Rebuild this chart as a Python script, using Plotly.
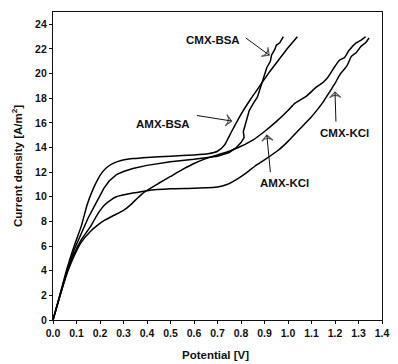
import plotly.graph_objects as go

# ---- data (Potential [V], Current density [A/m2]) ----
amx_bsa_v = [0, 0.03, 0.06, 0.09, 0.12, 0.146, 0.17, 0.19, 0.21, 0.23, 0.26, 0.29, 0.34, 0.4, 0.5, 0.6, 0.66, 0.7,
             0.73, 0.76, 0.8, 0.84, 0.88, 0.92, 0.96, 1.0, 1.04]
amx_bsa_i = [0, 2.1, 4.2, 6.0, 7.6, 9.4, 10.6, 11.4, 12.0, 12.4, 12.75, 12.95, 13.1, 13.2, 13.3, 13.4, 13.5, 13.7,
             14.2, 15.3, 16.7, 17.9, 19.0, 20.1, 21.1, 22.1, 23.0]

cmx_bsa_v = [0, 0.03, 0.06, 0.09, 0.12, 0.15, 0.175, 0.2, 0.217, 0.24, 0.27, 0.3, 0.34, 0.4, 0.5, 0.6, 0.7, 0.75,
             0.78, 0.8, 0.813, 0.81, 0.822, 0.835, 0.85, 0.87, 0.89, 0.91, 0.925, 0.93, 0.945, 0.95, 0.965, 0.98]
cmx_bsa_i = [0, 2.0, 4.0, 5.7, 7.0, 8.3, 9.2, 10.1, 10.7, 11.3, 11.8, 12.05, 12.3, 12.55, 12.85, 13.05, 13.3, 13.6,
             14.0, 14.4, 14.8, 15.3, 16.2, 17.0, 17.5, 18.1, 19.3, 20.5, 21.0, 21.5, 22.0, 22.3, 22.5, 23.0]

amx_kcl_v = [0, 0.03, 0.06, 0.09, 0.12, 0.16, 0.19, 0.22, 0.26, 0.3, 0.33, 0.36, 0.39, 0.45, 0.5, 0.55, 0.6, 0.65,
             0.7, 0.75, 0.8, 0.85, 0.9, 0.95, 1.0, 1.03, 1.08, 1.12, 1.15, 1.17, 1.2, 1.22, 1.24, 1.26,
             1.29, 1.31, 1.33]
amx_kcl_i = [0, 2.0, 3.8, 5.2, 6.3, 7.2, 7.7, 8.1, 8.5, 8.9, 9.35, 9.9, 10.4, 11.1, 11.65, 12.2, 12.7, 13.1,
             13.4, 13.7, 14.1, 14.6, 15.3, 16.1, 17.0, 17.6, 18.2, 18.9, 19.3, 19.7, 20.6, 21.1, 21.3, 21.9,
             22.5, 22.7, 23.0]

cmx_kcl_v = [0, 0.03, 0.06, 0.09, 0.12, 0.16, 0.19, 0.217, 0.25, 0.27, 0.34, 0.4, 0.5, 0.6, 0.7, 0.74, 0.78,
             0.82, 0.86, 0.9, 0.96, 1.0, 1.05, 1.1, 1.13, 1.15, 1.18, 1.2, 1.22, 1.25, 1.27, 1.29, 1.31,
             1.33, 1.345]
cmx_kcl_i = [0, 2.0, 3.9, 5.4, 6.5, 7.6, 8.6, 9.3, 9.8, 10.0, 10.3, 10.5, 10.65, 10.7, 10.8, 11.0, 11.4,
             11.9, 12.5, 13.0, 13.8, 14.5, 15.5, 16.5, 17.2, 17.7, 18.6, 19.2, 19.9, 20.6, 21.4, 21.7, 22.2,
             22.5, 22.9]

x_ticks = [0.0, 0.1, 0.2, 0.3, 0.4, 0.5, 0.6, 0.7, 0.8, 0.9, 1.0, 1.1, 1.2, 1.3, 1.4]
y_ticks = [0, 2, 4, 6, 8, 10, 12, 14, 16, 18, 20, 22, 24]

# labels: (text, label x, label y, arrow tail x, tail y, tip x, tip y)
labels = [
    ("CMX-BSA", 0.68, 22.7, 0.82, 22.9, 0.92, 21.5),
    ("AMX-BSA", 0.47, 15.9, 0.6125, 16.6, 0.76, 16.15),
    ("AMX-KCl", 0.985, 11.1, 0.925, 12.0, 0.91, 15.0),
    ("CMX-KCl", 1.24, 15.2, 1.204, 16.1, 1.2, 18.5),
]

FONT = "Liberation Sans, Arial, sans-serif"

series = [(amx_bsa_v, amx_bsa_i, "spline"), (cmx_bsa_v, cmx_bsa_i, "linear"),
          (amx_kcl_v, amx_kcl_i, "spline"), (cmx_kcl_v, cmx_kcl_i, "spline")]

fig = go.Figure()
for v, i, shp in series:
    line = dict(color="black", width=1.5, shape=shp)
    if shp == "spline":
        line["smoothing"] = 0.5
    fig.add_trace(go.Scatter(x=v, y=i, mode="lines", line=line, showlegend=False, hoverinfo="skip"))

titlefont = dict(family=FONT, size=11.5, color="#111", weight="bold")
tickfont = dict(family=FONT, size=10.5, color="#111", weight="bold")

ann = []
for t, lx, ly, tx, ty, hx, hy in labels:
    ann.append(dict(x=lx, y=ly, xref="x", yref="y", text=t, showarrow=False,
                    font=dict(family=FONT, size=11.5, color="#111", weight="bold")))
    fig.add_trace(go.Scatter(x=[tx, hx], y=[ty, hy], mode="lines+markers",
                             line=dict(color="#111", width=1),
                             marker=dict(symbol="arrow-wide-open", size=[0, 8], angleref="previous",
                                         color="#111", line=dict(color="#111", width=1.2)),
                             showlegend=False, hoverinfo="skip"))

ann.append(dict(x=0.495, y=-0.114, xref="paper", yref="paper", xanchor="center", yanchor="middle",
                text="Potential [V]", showarrow=False, font=titlefont))

fig.update_layout(
    width=398, height=364,
    margin=dict(l=53, r=9, t=12, b=44),
    paper_bgcolor="white", plot_bgcolor="white",
    annotations=ann,
    xaxis=dict(range=[0, 1.4], tickvals=x_ticks, ticktext=[f"{t:.1f}" for t in x_ticks],
               showgrid=False, zeroline=False, showline=True, linecolor="#111", linewidth=1.2,
               mirror=True, ticks="outside", ticklen=3, tickcolor="#111", tickfont=tickfont),
    yaxis=dict(range=[0, 25], tickvals=y_ticks,
               title=dict(text="Current density [A/m<sup>2</sup>]", font=titlefont, standoff=10),
               showgrid=False, zeroline=False, showline=True,
               linecolor="#111", linewidth=1.2, mirror=True, ticks="outside", ticklen=3, tickcolor="#111",
               tickfont=tickfont),
)

fig.write_html("out.html")
